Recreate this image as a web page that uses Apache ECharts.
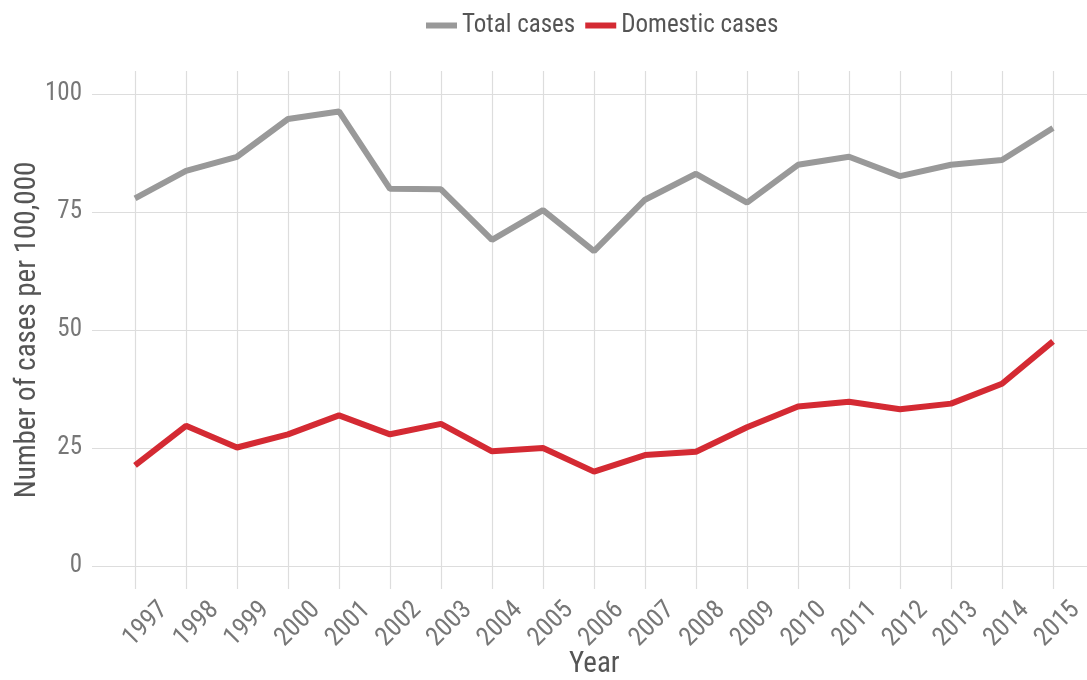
<!DOCTYPE html>
<html>
<head>
<meta charset="utf-8">
<script src="https://cdn.jsdelivr.net/npm/echarts@6/dist/echarts.min.js"></script>
<style>
  html, body { margin: 0; padding: 0; background: #fff; }
  #chart { width: 1087px; height: 680px; }
</style>
</head>
<body>
<div id="chart"></div>
<script>
const years = ['1997', '1998', '1999', '2000', '2001', '2002', '2003', '2004', '2005', '2006',
  '2007', '2008', '2009', '2010', '2011', '2012', '2013', '2014', '2015'];
const totalCases = [77.9, 83.7, 86.7, 94.7, 96.3, 79.9, 79.8, 69.1, 75.4, 66.7,
  77.6, 83.1, 77.0, 85.0, 86.7, 82.6, 85.0, 86.0, 92.8];
const domesticCases = [21.3, 29.7, 25.1, 27.9, 31.9, 27.9, 30.1, 24.3, 25.0, 20.0,
  23.5, 24.2, 29.4, 33.8, 34.8, 33.2, 34.4, 38.6, 47.6];
const yTicks = [0, 25, 50, 75, 100];

const font = '"Liberation Sans Narrow", "Roboto Condensed", "DejaVu Sans Condensed", Roboto, sans-serif';
const gridColor = '#dddddd';
const chart = echarts.init(document.getElementById('chart'));

const option = {
  backgroundColor: '#ffffff',
  textStyle: { fontFamily: font },
  // x axis title (axis name got clamped to the container edge)
  title: {
    text: 'Year',
    left: 569,
    top: 650,
    padding: 0,
    textStyle: { fontSize: 29, fontWeight: 'normal', color: '#555555', fontFamily: font }
  },
  legend: {
    top: 8,
    left: 421,
    icon: 'rect',
    itemWidth: 31,
    itemHeight: 6,
    itemGap: 10,
    textStyle: { fontSize: 25, color: '#555555', fontFamily: font },
    data: ['Total cases', 'Domestic cases']
  },
  grid: [
    // 0: y labels + horizontal lines across the whole panel
    { left: 92, right: 0, top: 94, bottom: 114 },
    // 1: the data
    { left: 135, right: 34, top: 94, bottom: 114 },
    // 2: vertical lines (panel padded above/below)
    { left: 135, right: 34, top: 71, bottom: 91 },
    // 3: year labels, nudged right/down like the ggplot labels
    { left: 164, right: 5, top: 71, bottom: 74 }
  ],
  xAxis: [
    { gridIndex: 0, type: 'value', show: false, min: 0, max: 1 },
    { gridIndex: 1, type: 'category', data: years, boundaryGap: false, show: false },
    {
      gridIndex: 2,
      type: 'category',
      data: years,
      boundaryGap: false,
      axisLine: { show: false },
      axisTick: { show: false },
      axisLabel: { show: false },
      splitLine: { show: true, lineStyle: { color: gridColor, width: 1.2 } }
    },
    {
      gridIndex: 3,
      type: 'category',
      data: years,
      boundaryGap: false,
      axisLine: { show: false },
      axisTick: { show: false },
      axisLabel: {
        rotate: 45,
        margin: 0,
        fontSize: 26,
        color: '#777777',
        fontFamily: font
      },
      splitLine: { show: false }
    }
  ],
  yAxis: [
    {
      gridIndex: 0,
      type: 'value',
      min: yTicks[0],
      max: yTicks[yTicks.length - 1],
      interval: 25,
      name: 'Number of cases per 100,000',
      nameLocation: 'middle',
      nameMoveOverlap: false,
      nameGap: 50,
      nameTextStyle: { fontSize: 29, color: '#555555', fontFamily: font },
      axisLine: { show: false },
      axisTick: { show: false },
      axisLabel: { margin: 10, fontSize: 25, color: '#777777', fontFamily: font },
      splitLine: { show: true, lineStyle: { color: gridColor, width: 1.2 } }
    },
    { gridIndex: 1, type: 'value', show: false, min: 0, max: 100, interval: 25, splitLine: { show: false } },
    { gridIndex: 2, type: 'value', show: false, min: 0, max: 1, splitLine: { show: false } },
    { gridIndex: 3, type: 'value', show: false, min: 0, max: 1, splitLine: { show: false } }
  ],
  series: [
    {
      name: 'Total cases',
      type: 'line',
      xAxisIndex: 1,
      yAxisIndex: 1,
      data: totalCases,
      showSymbol: false,
      symbol: 'none',
      color: '#999999',
      lineStyle: { width: 6, color: '#999999' }
    },
    {
      name: 'Domestic cases',
      type: 'line',
      xAxisIndex: 1,
      yAxisIndex: 1,
      data: domesticCases,
      showSymbol: false,
      symbol: 'none',
      color: '#d42a33',
      lineStyle: { width: 6, color: '#d42a33' }
    }
  ]
};

chart.setOption(option);
</script>
</body>
</html>
